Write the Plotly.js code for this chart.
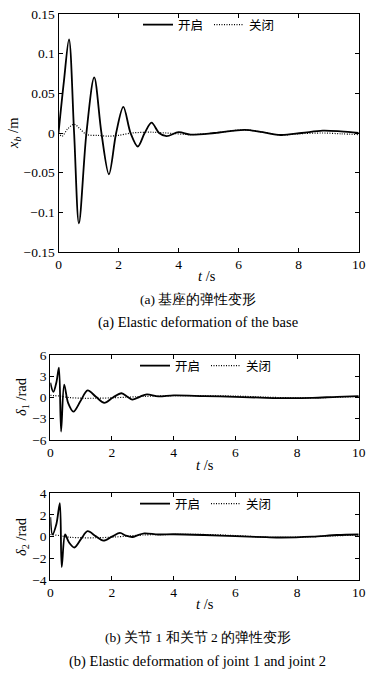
<!DOCTYPE html>
<html>
<head>
<meta charset="utf-8">
<script src="https://cdn.plot.ly/plotly-3.0.1.min.js"></script>
<style>html,body{margin:0;padding:0;background:#fff;}#chart{width:381px;height:679px;}</style>
</head>
<body>
<div id="chart"></div>
<script>
// ---- data ----
// (a) base elastic deformation x_b (m)
var tBaseOn  = [0, 0.18, 0.35, 0.52, 0.68, 0.93, 1.19, 1.43, 1.68, 1.92, 2.16, 2.40, 2.64, 2.87, 3.10, 3.35, 3.6, 4.0, 4.4, 5.2, 6.2, 6.8, 7.4, 8.1, 8.8, 9.4, 10];
var xBaseOn  = [0, 0.065, 0.118, 0, -0.114, 0, 0.070, 0, -0.052, 0, 0.033, 0, -0.017, 0, 0.013, 0, -0.004, 0.001, -0.002, 0.0, 0.004, 0.001, -0.0025, 0.0, 0.003, 0.002, 0.0];
var tBaseOff = [0, 0.12, 0.3, 0.52, 0.72, 0.94, 1.3, 1.65, 2.0, 2.43, 3.1, 3.6, 4.4, 5.2, 6.2, 6.8, 7.4, 8.0, 8.8, 9.4, 10];
var xBaseOff = [0, -0.004, 0.005, 0.011, 0.005, -0.002, -0.003, -0.004, -0.003, 0.0, 0.001, 0.0, -0.002, 0.0, 0.004, 0.001, -0.0025, -0.001, 0.0, -0.001, -0.002];

// (b) joint 1 elastic deformation delta_1 (rad)
var tJ1On  = [0, 0.1, 0.2, 0.28, 0.35, 0.45, 0.58, 0.75, 0.98, 1.21, 1.48, 1.75, 2.03, 2.31, 2.5, 2.66, 2.9, 3.13, 3.5, 4.0, 5.0, 6.0, 7.0, 7.8, 8.5, 9.3, 10];
var dJ1On  = [2.1, 0.8, 2.2, 4.2, -4.8, 1.8, -0.8, -2.0, -0.5, 1.0, 0.1, -0.75, 0.0, 0.6, 0.1, -0.3, 0.1, 0.45, 0.15, 0.3, 0.2, 0.1, -0.05, -0.1, -0.05, 0.1, 0.2];
var tJ1Off = [0, 0.3, 0.6, 1.0, 1.5, 2.0, 2.5, 3.0, 4.0, 5.0, 6.0, 7.0, 8.0, 9.0, 10];
var dJ1Off = [0.3, 0.2, 0.0, -0.1, -0.1, -0.05, 0.05, 0.15, 0.25, 0.25, 0.2, 0.05, -0.05, 0.0, 0.15];

// (b) joint 2 elastic deformation delta_2 (rad)
var tJ2On  = [0, 0.07, 0.2, 0.31, 0.37, 0.48, 0.6, 0.78, 1.0, 1.21, 1.47, 1.72, 2.0, 2.26, 2.45, 2.66, 2.85, 3.05, 3.5, 4.0, 5.0, 6.0, 7.0, 7.5, 8.5, 9.3, 10];
var dJ2On  = [1.8, 0.2, 1.2, 3.1, -2.8, 0.2, -0.5, -1.0, -0.2, 0.5, 0.05, -0.37, 0.0, 0.34, 0.1, -0.03, 0.15, 0.3, 0.2, 0.22, 0.15, 0.05, -0.05, -0.08, 0.0, 0.15, 0.2];
var tJ2Off = [0, 0.3, 0.6, 1.0, 1.5, 2.0, 2.5, 3.0, 4.0, 5.0, 6.0, 7.0, 8.0, 9.0, 10];
var dJ2Off = [0.2, 0.1, -0.05, -0.1, -0.1, -0.05, 0.05, 0.15, 0.2, 0.2, 0.1, -0.05, -0.05, 0.05, 0.15];

var seriesNames = ["开启", "关闭"];
var xTickVals = [0, 2, 4, 6, 8, 10];
var xTickText = ["0", "2", "4", "6", "8", "10"];
var y1TickVals = [-0.15, -0.1, -0.05, 0, 0.05, 0.1, 0.15];
var y1TickText = ["−0.15", "−0.1", "−0.05", "0", "0.05", "0.1", "0.15"];
var y2TickVals = [-6, -3, 0, 3, 6];
var y2TickText = ["−6", "−3", "0", "3", "6"];
var y3TickVals = [-4, -2, 0, 2, 4];
var y3TickText = ["−4", "−2", "0", "2", "4"];

// ---- styling ----
var serif = "Liberation Serif, Times New Roman, serif";
var cjk = "Noto Sans CJK SC, sans-serif";
var W = 381, H = 679;
function px(x){ return x / W; }
function py(y){ return 1 - y / H; }

function onTrace(t, v, xa, ya, lg){
  return {x: t, y: v, xaxis: xa, yaxis: ya, legend: lg, name: seriesNames[0], showlegend: true,
    mode: "lines", line: {color: "#000", width: 1.8, shape: "spline", smoothing: 0.9}, type: "scatter"};
}
function offTrace(t, v, xa, ya, lg){
  return {x: t, y: v, xaxis: xa, yaxis: ya, legend: lg, name: seriesNames[1], showlegend: true,
    mode: "lines", line: {color: "#000", width: 1.2, dash: "1px,1.5px", shape: "spline", smoothing: 0.9}, type: "scatter"};
}

var data = [
  onTrace(tBaseOn, xBaseOn, "x", "y", "legend"),
  offTrace(tBaseOff, xBaseOff, "x", "y", "legend"),
  onTrace(tJ1On, dJ1On, "x2", "y2", "legend2"),
  offTrace(tJ1Off, dJ1Off, "x2", "y2", "legend2"),
  onTrace(tJ2On, dJ2On, "x3", "y3", "legend3"),
  offTrace(tJ2Off, dJ2Off, "x3", "y3", "legend3")
];

function xax(domain, anchor){
  return {domain: domain, anchor: anchor, range: [0, 10], tickvals: xTickVals, ticktext: xTickText,
    ticks: "inside", ticklen: 4, tickcolor: "#000", showline: true, linecolor: "#000", linewidth: 1,
    mirror: "ticks", showgrid: false, zeroline: false, tickfont: {family: serif, size: 13.5, color: "#000"}};
}
function yax(domain, anchor, range, tv, tt){
  return {domain: domain, anchor: anchor, range: range, tickvals: tv, ticktext: tt,
    ticks: "inside", ticklen: 4, tickcolor: "#000", showline: true, linecolor: "#000", linewidth: 1,
    mirror: "ticks", showgrid: false, zeroline: false, tickfont: {family: serif, size: 13.5, color: "#000"}};
}
function lgd(x, y){
  return {orientation: "h", x: x, y: y, xanchor: "center", yanchor: "middle", bgcolor: "rgba(0,0,0,0)",
    font: {family: cjk, size: 12.5, color: "#000"}, tracegroupgap: 0, entrywidth: 26, entrywidthmode: "pixels"};
}

var annotations = [
  {text: "<i>x</i><sub><i>b</i></sub> /m", x: px(14), y: py(133), textangle: -90, font: {family: serif, size: 14.5, color: "#000"}},
  {text: "<i>t</i> /s", x: px(207), y: py(276), font: {family: serif, size: 14.5, color: "#000"}},
  {text: "(a) 基座的弹性变形", x: px(198), y: py(299), font: {family: serif, size: 13.5, color: "#000"}},
  {text: "(a) Elastic deformation of the base", x: px(198), y: py(322), font: {family: serif, size: 14.5, color: "#000"}},
  {text: "<i>δ</i><sub>1</sub> /rad", x: px(22), y: py(397), textangle: -90, font: {family: serif, size: 14.5, color: "#000"}},
  {text: "<i>t</i> /s", x: px(205), y: py(465), font: {family: serif, size: 14.5, color: "#000"}},
  {text: "<i>δ</i><sub>2</sub> /rad", x: px(22), y: py(537), textangle: -90, font: {family: serif, size: 14.5, color: "#000"}},
  {text: "<i>t</i> /s", x: px(205), y: py(604), font: {family: serif, size: 14.5, color: "#000"}},
  {text: "(b) 关节 1 和关节 2 的弹性变形", x: px(198), y: py(637), font: {family: serif, size: 13.5, color: "#000"}},
  {text: "(b) Elastic deformation of joint 1 and joint 2", x: px(197), y: py(661), font: {family: serif, size: 14.5, color: "#000"}}
].map(function(a){
  return Object.assign({xref: "paper", yref: "paper", showarrow: false, xanchor: "center", yanchor: "middle"}, a);
});

var layout = {
  width: W, height: H, margin: {l: 0, r: 0, t: 0, b: 0},
  paper_bgcolor: "#fff", plot_bgcolor: "#fff",
  xaxis: xax([px(58.5), px(358.7)], "y"),
  yaxis: yax([py(252), py(14)], "x", [-0.15, 0.15], y1TickVals, y1TickText),
  xaxis2: xax([px(50.3), px(358.7)], "y2"),
  yaxis2: yax([py(440), py(355)], "x2", [-6, 6], y2TickVals, y2TickText),
  xaxis3: xax([px(50.3), px(358.7)], "y3"),
  yaxis3: yax([py(580), py(493.3)], "x3", [-4, 4], y3TickVals, y3TickText),
  legend: lgd(px(209), py(25)),
  legend2: lgd(px(206), py(366)),
  legend3: lgd(px(206), py(504)),
  annotations: annotations
};

Plotly.newPlot("chart", data, layout, {displayModeBar: false, staticPlot: true});
</script>
</body>
</html>
